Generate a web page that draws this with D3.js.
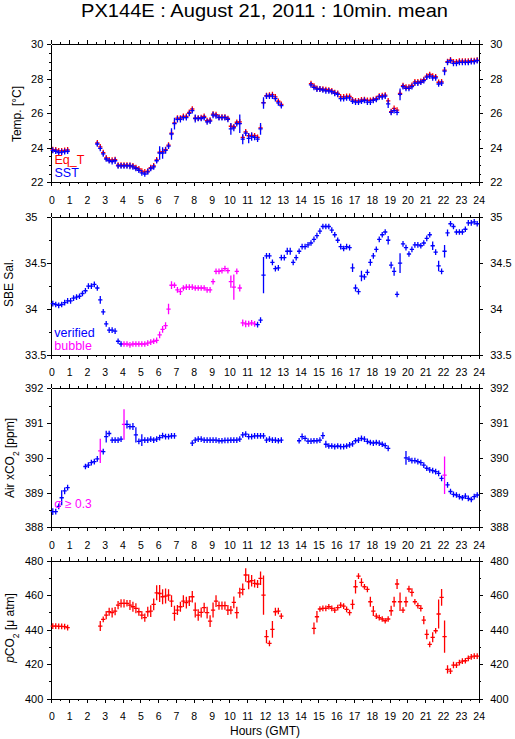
<!DOCTYPE html>
<html><head><meta charset="utf-8">
<script src="https://cdn.jsdelivr.net/npm/d3@7"></script>
<style>
body{margin:0;background:#fff}
svg{display:block}
text{font-family:"Liberation Sans",Arial,Helvetica,sans-serif;fill:#000}
</style>
</head><body>
<svg id="c" width="515" height="739"></svg>
<script>
// ---------- DATA (10-minute means, 6 values per hour, null = no data) ----------
const hourLabels = d3.range(0, 25);
const tempTicks = [22, 24, 26, 28, 30];
const salTicks  = [33.5, 34, 34.5, 35];
const airTicks  = [388, 389, 390, 391, 392];
const pco2Ticks = [400, 420, 440, 460, 480];
const bubbleHours = [4.0, 11.5];     // salinity flagged "bubble" in this interval
const sigmaLimit = 0.3;               // air xCO2 sd >= 0.3 drawn magenta

const eqT = [
 23.90,23.88,23.82,23.82,23.85,23.88,
 null,null,null,null,null,null,
 null,null,null,24.28,24.05,23.72,
 23.42,23.30,23.28,23.32,23.00,23.00,
 23.00,23.00,22.98,22.95,22.85,22.78,
 22.65,22.60,22.65,22.85,22.95,23.30,
 23.75,23.78,23.90,24.15,24.85,25.45,
 25.72,25.72,25.82,25.82,26.05,26.25,
 25.72,25.72,25.75,25.82,25.58,25.60,
 25.95,25.92,25.78,25.78,25.78,25.70,
 25.25,25.22,25.48,25.50,24.60,24.92,
 24.70,24.72,24.70,24.60,25.15,26.62,
 27.02,27.05,27.08,26.95,26.70,26.52,
 null,null,null,null,null,null,
 null,null,null,27.72,27.58,27.45,
 27.42,27.40,27.38,27.35,27.30,27.20,
 27.15,26.95,26.95,26.98,26.98,26.78,
 26.72,26.72,26.78,26.80,26.75,26.75,
 26.80,26.85,27.00,27.02,27.05,26.72,
 26.10,26.28,26.18,27.15,27.60,27.52,
 27.52,27.62,27.82,27.82,27.85,27.95,
 28.15,28.25,28.15,28.12,27.80,27.82,
 28.50,29.00,29.10,28.98,28.98,29.02,
 29.02,29.02,29.02,29.05,29.05,29.08];

const sst = [
 23.85,23.80,23.72,23.75,23.78,23.80,
 null,null,null,null,null,null,
 null,null,null,24.22,23.97,23.65,
 23.35,23.25,23.20,23.25,22.95,22.95,
 22.95,22.95,22.95,22.90,22.80,22.70,
 22.55,22.48,22.60,22.80,22.90,23.25,
 23.70,23.70,23.85,24.10,24.80,25.40,
 25.65,25.65,25.75,25.75,26.00,26.15,
 25.70,25.70,25.70,25.75,25.50,25.55,
 25.90,25.85,25.75,25.75,25.75,25.65,
 25.10,25.15,25.40,25.40,24.50,24.85,
 24.55,24.65,24.60,24.50,25.10,26.60,
 27.00,27.00,27.00,26.85,26.60,26.45,
 null,null,null,null,null,null,
 null,null,null,27.65,27.50,27.40,
 27.40,27.35,27.30,27.30,27.25,27.15,
 27.10,26.85,26.85,26.90,26.90,26.70,
 26.65,26.65,26.70,26.75,26.65,26.65,
 26.75,26.80,26.95,26.95,27.00,26.55,
 26.05,26.15,26.05,27.10,27.55,27.45,
 27.45,27.55,27.75,27.75,27.80,27.90,
 28.10,28.15,28.05,28.05,27.70,27.75,
 28.45,28.95,29.05,28.90,28.90,28.95,
 28.95,28.95,28.95,29.00,29.00,29.05];

const sstSd = [
 0.04,0.04,0.04,0.04,0.04,0.04,
 0,0,0,0,0,0,
 0,0,0,0.05,0.05,0.06,
 0.05,0.06,0.08,0.15,0.08,0.08,
 0.06,0.06,0.15,0.06,0.08,0.06,
 0.06,0.08,0.06,0.10,0.10,0.08,
 0.35,0.30,0.15,0.10,0.30,0.30,
 0.15,0.15,0.12,0.10,0.10,0.12,
 0.20,0.10,0.06,0.10,0.08,0.06,
 0.15,0.08,0.08,0.06,0.06,0.06,
 0.30,0.15,0.10,0.50,0.25,0.10,
 0.25,0.20,0.10,0.06,0.30,0.30,
 0.05,0.05,0.05,0.05,0.05,0.06,
 0,0,0,0,0,0,
 0,0,0,0.06,0.05,0.05,
 0.04,0.04,0.04,0.04,0.04,0.04,
 0.04,0.05,0.05,0.04,0.04,0.05,
 0.05,0.05,0.04,0.04,0.05,0.04,
 0.04,0.04,0.04,0.04,0.04,0.20,
 0.08,0.05,0.08,0.30,0.08,0.06,
 0.05,0.05,0.04,0.04,0.04,0.04,
 0.05,0.04,0.05,0.04,0.10,0.08,
 0.20,0.08,0.04,0.04,0.04,0.04,
 0.04,0.04,0.04,0.04,0.04,0.04];

const sal = [
 34.06,34.05,34.04,34.05,34.07,34.09,
 34.09,34.12,34.13,34.14,34.17,34.20,
 34.25,34.25,34.27,34.23,34.10,33.97,
 33.84,33.77,33.77,33.76,33.65,33.62,
 33.62,33.62,33.61,33.62,33.62,33.62,
 33.62,33.62,33.63,33.64,33.65,33.66,
 33.72,33.78,33.82,34.00,34.26,34.26,
 34.21,34.19,34.23,34.24,34.24,34.24,
 34.23,34.23,34.23,34.23,34.21,34.21,
 34.30,34.41,34.41,34.42,34.44,34.42,
 34.30,34.24,34.41,34.23,33.85,33.84,
 33.84,33.85,33.84,33.83,33.88,34.37,
 34.58,34.58,34.51,34.44,34.45,34.56,
 34.56,34.63,34.63,34.51,34.56,34.63,
 34.68,34.68,34.70,34.72,34.76,34.80,
 34.85,34.90,34.90,34.90,34.86,34.81,
 34.75,34.68,34.66,34.68,34.67,34.45,
 34.23,34.19,34.36,34.35,34.40,34.51,
 34.58,34.65,34.76,34.81,34.84,34.75,
 34.48,34.41,34.16,34.50,34.71,34.67,
 34.60,34.65,34.70,34.70,34.69,34.72,
 34.77,34.81,34.69,34.62,34.47,34.41,
 34.63,34.83,34.93,34.90,34.84,34.84,
 34.84,34.87,34.94,34.94,34.95,34.93];

const salSd = [
 0.008,0.008,0.015,0.008,0.008,0.008,
 0.008,0.008,0.008,0.008,0.008,0.008,
 0.008,0.008,0.008,0.02,0.035,0.02,
 0.02,0.01,0.01,0.02,0.02,0.01,
 0.008,0.015,0.015,0.015,0.015,0.015,
 0.015,0.015,0.015,0.02,0.02,0.02,
 0.03,0.03,0.03,0.05,0.035,0.02,
 0.025,0.03,0.02,0.02,0.015,0.02,
 0.02,0.02,0.02,0.02,0.02,0.025,
 0.02,0.015,0.015,0.015,0.015,0.02,
 0.06,0.13,0.02,0.03,0.03,0.03,
 0.025,0.02,0.02,0.01,0.02,0.19,
 0.008,0.008,0.01,0.015,0.01,0.01,
 0.008,0.03,0.03,0.02,0.01,0.008,
 0.008,0.008,0.008,0.008,0.008,0.008,
 0.008,0.008,0.008,0.008,0.008,0.008,
 0.008,0.008,0.008,0.008,0.008,0.04,
 0.03,0.02,0.05,0.01,0.02,0.03,
 0.008,0.01,0.01,0.008,0.008,0.04,
 0.03,0.04,0.02,0.10,0.008,0.02,
 0.008,0.008,0.008,0.008,0.008,0.008,
 0.01,0.01,0.04,0.01,0.05,0.02,
 0.06,0.03,0.01,0.01,0.008,0.008,
 0.008,0.01,0.008,0.008,0.008,0.008];

const air = [
 388.45,388.45,388.60,388.85,389.05,389.14,
 null,null,null,null,null,389.75,
 389.79,389.86,389.89,389.97,390.20,390.18,
 390.61,390.70,390.51,390.51,390.51,390.54,
 390.96,390.96,390.90,390.90,390.66,390.47,
 390.51,390.51,390.51,390.54,390.51,390.54,
 390.58,390.64,390.61,390.61,390.63,390.63,
 null,null,null,null,null,390.42,
 390.51,390.54,390.54,390.51,390.51,390.51,
 390.51,390.51,390.49,390.49,390.50,390.50,
 390.51,390.51,390.51,390.54,390.66,390.68,
 390.61,390.61,390.63,390.63,390.63,390.63,
 390.51,390.54,390.51,390.51,390.49,390.51,
 null,null,null,null,null,390.49,
 390.61,390.56,390.48,390.48,390.49,390.49,
 390.51,390.64,390.39,390.34,390.34,390.32,
 390.34,390.32,390.32,390.34,390.37,390.40,
 390.49,390.51,390.56,390.54,390.47,390.44,
 390.42,390.44,390.42,390.39,390.35,390.27,
 null,null,null,null,null,390.00,
 389.96,389.92,389.92,389.89,389.86,389.79,
 389.70,389.65,389.63,389.60,389.55,389.41,
 389.50,389.22,389.03,388.95,388.93,388.88,
 388.85,388.90,388.83,388.80,388.88,388.93];

const airSd = [
 0.08,0.02,0.05,0.20,0.08,0.03,
 0,0,0,0,0,0.02,
 0.02,0.02,0.02,0.02,0.33,0.05,
 0.15,0.05,0.05,0.05,0.02,0.02,
 0.42,0.10,0.05,0.08,0.20,0.05,
 0.15,0.05,0.02,0.02,0.02,0.02,
 0.02,0.05,0.02,0.02,0.02,0.02,
 0,0,0,0,0,0.02,
 0.02,0.02,0.02,0.02,0.02,0.02,
 0.02,0.02,0.02,0.02,0.02,0.02,
 0.02,0.02,0.02,0.02,0.02,0.02,
 0.05,0.02,0.02,0.02,0.02,0.02,
 0.02,0.02,0.02,0.02,0.02,0.02,
 0,0,0,0,0,0.02,
 0.07,0.03,0.02,0.02,0.02,0.02,
 0.02,0.08,0.08,0.02,0.02,0.02,
 0.02,0.02,0.02,0.02,0.02,0.02,
 0.02,0.02,0.02,0.02,0.02,0.02,
 0.02,0.02,0.02,0.02,0.02,0.02,
 0,0,0,0,0,0.18,
 0.03,0.02,0.02,0.02,0.02,0.03,
 0.03,0.02,0.02,0.02,0.02,0.03,
 0.52,0.06,0.02,0.02,0.02,0.02,
 0.02,0.02,0.02,0.02,0.04,0.04];

const pco2 = [
 442.1,442.1,441.9,441.9,441.8,441.2,
 null,null,null,null,null,null,
 null,null,null,null,442.1,446.0,
 448.5,450.4,449.9,450.8,454.3,455.3,
 455.3,455.3,454.3,453.3,452.4,450.4,
 448.5,447.0,450.4,450.8,454.7,461.4,
 461.0,459.1,459.5,460.1,456.6,449.5,
 451.4,453.3,456.6,455.7,456.6,459.1,
 451.4,448.5,450.0,452.8,449.9,445.0,
 451.4,456.6,453.9,453.9,453.9,451.4,
 451.4,455.8,449.9,461.4,463.4,471.7,
 467.8,468.4,466.9,466.5,469.8,460.1,
 436.0,432.1,440.2,450.4,450.8,447.9,
 null,null,null,null,null,null,
 null,null,null,null,440.8,447.5,
 452.0,452.4,452.4,453.3,452.4,451.4,
 452.8,454.3,453.7,451.8,449.9,454.7,
 464.9,471.1,467.4,464.9,463.4,456.2,
 450.8,447.9,447.0,446.2,445.2,446.2,
 451.0,456.2,466.5,456.2,451.4,456.2,
 463.6,461.6,456.2,453.9,452.4,445.6,
 437.3,431.5,435.6,439.4,449.1,458.7,
 436.0,417.0,416.0,419.5,419.5,420.9,
 421.8,422.0,423.4,424.3,424.7,424.7];

const pco2Sd = [
 0.5,0.5,0.5,0.5,0.5,0.5,
 0,0,0,0,0,0,
 0,0,0,0,2.5,1.0,
 2.0,2.0,2.5,2.0,2.0,2.0,
 2.0,1.5,2.5,2.5,2.5,2.0,
 2.0,2.0,2.5,3.0,3.0,4.0,
 4.5,4.0,4.0,3.0,3.0,4.0,
 2.5,2.5,3.0,3.0,2.5,3.0,
 4.0,3.0,2.5,2.5,3.0,3.0,
 4.0,3.0,2.0,2.0,2.0,2.5,
 2.0,3.0,3.0,2.5,3.0,3.5,
 4.0,3.0,2.0,2.0,3.5,11.0,
 3.5,0.5,4.5,2.0,1.5,0.5,
 0,0,0,0,0,0,
 0,0,0,0,3.0,3.0,
 1.0,0.5,0.5,0.5,0.5,0.5,
 0.5,0.5,0.5,0.5,0.5,2.5,
 3.5,0.5,2.0,1.0,1.0,2.5,
 2.5,0.5,0.5,0.5,1.2,0.5,
 2.5,2.5,2.5,5.0,0.5,2.5,
 1.5,2.0,1.0,0.5,1.5,2.0,
 2.5,0.5,2.5,1.0,8.0,4.5,
 9.0,2.0,1.0,1.5,1.0,0.5,
 0.5,0.5,0.5,0.5,0.5,0.5];

// ---------- LAYOUT ----------
const BLUE = "#0000ff", RED = "#ff0000", MAG = "#ff00ff";
const svg = d3.select("#c");
const x = d3.scaleLinear().domain([0, 24]).range([51.3, 478.7]);
const X0 = x.range()[0], X1 = x.range()[1];

svg.append("text").attr("x", 264.5).attr("y", 16.5).attr("text-anchor", "middle")
  .attr("font-size", 19).attr("textLength", 367).attr("lengthAdjust", "spacingAndGlyphs")
  .text("PX144E : August 21, 2011 : 10min. mean");

function makePanel(top, bottom, domain, ticks, minorStep, decimals) {
  const y = d3.scaleLinear().domain(domain).range([bottom, top]);
  const g = svg.append("g");
  const minor = d3.range(domain[0], domain[1] + minorStep / 2, minorStep);
  const halfHours = d3.range(0.5, 24, 1);
  const styleAxis = (sel, fs) => {
    sel.selectAll("path.domain").attr("stroke", "#000").attr("stroke-width", 1).attr("shape-rendering", "crispEdges");
    sel.selectAll("line").attr("stroke", "#000").attr("shape-rendering", "crispEdges");
    sel.selectAll("text").attr("font-size", fs || 10.5).attr("fill", "#000")
      .attr("font-family", '"Liberation Sans",Arial,sans-serif');
  };
  // top
  g.append("g").attr("transform", `translate(0,${top})`)
    .call(d3.axisTop(x).tickValues(hourLabels).tickSize(4).tickSizeOuter(0).tickFormat("")).call(styleAxis);
  g.append("g").attr("transform", `translate(0,${top})`)
    .call(d3.axisTop(x).tickValues(halfHours).tickSize(2).tickSizeOuter(0).tickFormat("")).call(styleAxis);
  // bottom with hour labels
  g.append("g").attr("transform", `translate(0,${bottom})`)
    .call(d3.axisBottom(x).tickValues(hourLabels).tickSize(4).tickSizeOuter(0).tickPadding(10).tickFormat(d3.format("d"))).call(styleAxis, 10.5);
  g.append("g").attr("transform", `translate(0,${bottom})`)
    .call(d3.axisBottom(x).tickValues(halfHours).tickSize(2).tickSizeOuter(0).tickFormat("")).call(styleAxis);
  // left
  const fmt = decimals ? d3.format(".1~f") : d3.format("d");
  const la = g.append("g").attr("transform", `translate(${X0},0)`)
    .call(d3.axisLeft(y).tickValues(ticks).tickSize(4).tickSizeOuter(0).tickPadding(decimals ? 0.8 : 4).tickFormat(fmt)).call(styleAxis, 11);
  if (decimals) la.selectAll("text").attr("dx", d => Number.isInteger(d) ? -9 : 0);
  g.append("g").attr("transform", `translate(${X0},0)`)
    .call(d3.axisLeft(y).tickValues(minor).tickSize(2).tickSizeOuter(0).tickFormat("")).call(styleAxis);
  // right
  g.append("g").attr("transform", `translate(${X1},0)`)
    .call(d3.axisRight(y).tickValues(ticks).tickSize(4).tickSizeOuter(0).tickPadding(7.5).tickFormat(fmt)).call(styleAxis, 11);
  g.append("g").attr("transform", `translate(${X1},0)`)
    .call(d3.axisRight(y).tickValues(minor).tickSize(2).tickSizeOuter(0).tickFormat("")).call(styleAxis);
  return { g, y };
}

function drawSeries(panel, vals, sds, colorFn) {
  const pts = vals.map((v, i) => ({ i, v, e: sds ? (sds[i] || 0) : 0 })).filter(d => d.v != null);
  const y = panel.y;
  panel.g.append("g").selectAll("path").data(pts).join("path")
    .attr("d", d => {
      const t0 = d.i / 6, t1 = (d.i + 1) / 6, tc = (d.i + 0.5) / 6;
      const yv = y(d.v);
      const ya = Math.min(y(d.v + d.e), yv - 2.2), yb = Math.max(y(d.v - d.e), yv + 2.2);
      return `M${x(t0)},${yv}H${x(t1)}M${x(tc)},${ya}V${yb}`;
    })
    .attr("fill", "none").attr("stroke", d => colorFn(d)).attr("stroke-width", 1.3)
    .attr("stroke-linecap", "square");
}

function yTitle(xb, yc, parts) {
  const t = svg.append("text").attr("transform", `translate(${xb},${yc}) rotate(-90)`)
    .attr("text-anchor", "middle").attr("font-size", 12);
  parts.forEach(p => {
    const s = t.append("tspan").text(p.t);
    if (p.sub) s.attr("baseline-shift", "sub").attr("font-size", 8.5);
    if (p.it) s.attr("font-style", "italic");
  });
}

// Panel 1: temperature
const p1 = makePanel(44.3, 182.3, [22, 30], tempTicks, 0.5, false);
drawSeries(p1, eqT, null, () => RED);
drawSeries(p1, sst, sstSd, () => BLUE);
yTitle(20.5, 114, [{ t: "Temp. [°C]" }]);
svg.append("text").attr("x", 54.5).attr("y", 163.5).attr("font-size", 12.5).style("fill", RED).text("Eq_T");
svg.append("text").attr("x", 54.5).attr("y", 177).attr("font-size", 12.5).style("fill", BLUE).text("SST");

// Panel 2: salinity
const p2 = makePanel(217.3, 355, [33.5, 35], salTicks, 0.25, true);
drawSeries(p2, sal, salSd, d => {
  const t = (d.i + 0.5) / 6;
  return (t > bubbleHours[0] && t < bubbleHours[1]) ? MAG : BLUE;
});
yTitle(12.5, 283, [{ t: "SBE Sal." }]);
svg.append("text").attr("x", 54.3).attr("y", 336.5).attr("font-size", 12.5).style("fill", BLUE).text("verified");
svg.append("text").attr("x", 54.3).attr("y", 349.5).attr("font-size", 12.5).style("fill", MAG).text("bubble");

// Panel 3: air xCO2
const p3 = makePanel(388.3, 527.3, [388, 392], airTicks, 0.5, false);
drawSeries(p3, air, airSd, d => d.e >= sigmaLimit ? MAG : BLUE);
yTitle(14, 458, [{ t: "Air xCO" }, { t: "2", sub: true }, { t: " [ppm]" }]);
svg.append("text").attr("x", 54.3).attr("y", 508).attr("font-size", 12).style("fill", MAG).text("σ ≥ 0.3");

// Panel 4: pCO2
const p4 = makePanel(560.7, 698.7, [400, 480], pco2Ticks, 10, false);
drawSeries(p4, pco2, pco2Sd, () => RED);
yTitle(14, 628, [{ t: "p", it: true }, { t: "CO" }, { t: "2", sub: true }, { t: " [μ atm]" }]);

svg.append("text").attr("x", 265).attr("y", 735).attr("text-anchor", "middle").attr("font-size", 12).text("Hours (GMT)");
</script>
</body></html>
